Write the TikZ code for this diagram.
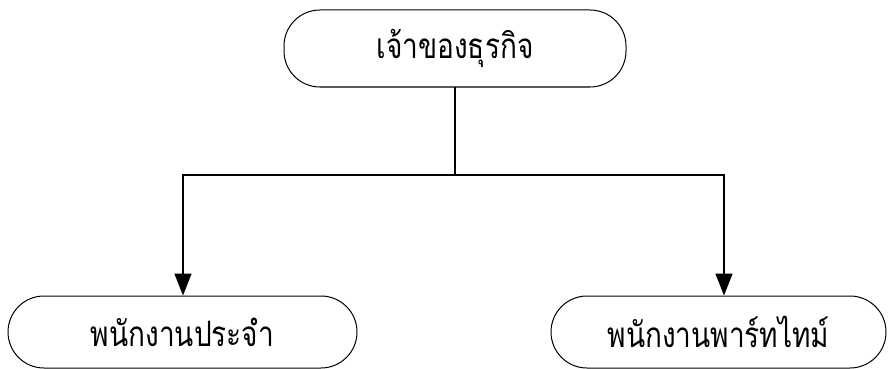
\documentclass[tikz,border=0pt]{standalone}
\usepackage{fontspec}
\newfontfamily\thaifont[Script=Thai,FakeStretch=0.8]{Loma}
\usetikzlibrary{arrows.meta}
\begin{document}
\begin{tikzpicture}[x=1pt,y=-1pt,
  term/.style={draw=black,line width=1pt,rounded corners=36pt,inner sep=0pt,font=\thaifont\fontsize{35}{40}\selectfont},
  conn/.style={line width=1.6pt},
  arr/.style={conn,-{Triangle[length=22pt,width=17pt]}}]
\useasboundingbox (0,0) rectangle (889,369);
\node[term,minimum width=342pt,minimum height=77pt] (top) at (455,48.5) {เจ้าของธุรกิจ};
\node[term,minimum width=349pt,minimum height=72pt] (left) at (182.5,332) {พนักงานประจำ};
\node[term,minimum width=335pt,minimum height=72pt] (right) at (718.5,332) {พนักงานพาร์ทไทม์};
\coordinate (j) at (455,175);
\draw[conn] (top.south) -- (j);
\draw[arr] (j) -| (left.north -| 183,0);
\draw[arr] (j) -| (right.north -| 724,0);
\end{tikzpicture}
\end{document}
